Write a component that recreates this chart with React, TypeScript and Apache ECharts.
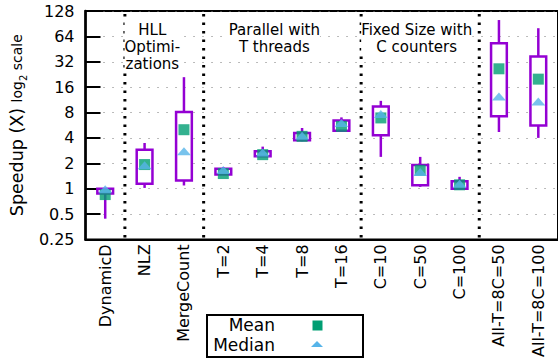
import React, { useEffect, useRef } from "react";
import * as echarts from "echarts";

const categories = ["DynamicD", "NLZ", "MergeCount", "T=2", "T=4", "T=8", "T=16", "C=10", "C=50", "C=100", "All-T=8C=50", "All-T=8C=100"];
const whiskerLow = [0.44, 1.02, 1.09, 1.45, 2.42, 3.65, 4.8, 2.38, 1.05, 1.0, 4.7, 4.0];
const boxLow = [0.875, 1.14, 1.25, 1.47, 2.42, 3.74, 4.87, 4.29, 1.1, 1.0, 7.2, 5.6];
const boxHigh = [1.0, 2.9, 8.1, 1.72, 2.77, 4.58, 6.45, 9.45, 1.91, 1.22, 53, 37];
const whiskerHigh = [1.0, 3.48, 21, 1.8, 3.15, 5.24, 7.0, 11.0, 2.38, 1.38, 100, 80];
const means = [0.85, 1.93, 5.0, 1.51, 2.53, 4.17, 5.48, 6.9, 1.65, 1.11, 26.4, 19.9];
const medians = [0.98, 1.9, 2.77, 1.66, 2.68, 4.25, 6.0, 7.7, 1.58, 1.14, 12.4, 10.8];
const separatorsAfter = [0, 2, 6, 9];
const groupLabels = [
  { text: "HLL\nOptimi-\nzations", at: 1.5 },
  { text: "Parallel with\nT threads", at: 4.5 },
  { text: "Fixed Size with\nC counters", at: 8 },
];

const PURPLE = "#9400D3";
const GREEN = "#009E73";
const BLUE = "#56B4E9";
const FONT = "DejaVu Sans";

const GRID_LEFT = 71;
const GRID_TOP = 11;
const GRID_W = 488;
const GRID_H = 229;

export default function App() {
  const ref = useRef<HTMLDivElement>(null);
  useEffect(() => {
    if (!ref.current) return;
    const chart = echarts.init(ref.current, null, { renderer: "svg" });
    const band = GRID_W / categories.length;
    const option: any = {
      animation: false,
      textStyle: { fontFamily: FONT, color: "#000" },
      grid: {
        left: GRID_LEFT,
        top: GRID_TOP,
        width: GRID_W,
        height: GRID_H,
        show: true,
        borderColor: "#000",
        borderWidth: 2,
        backgroundColor: "transparent",
      },
      xAxis: {
        type: "category",
        data: categories,
        boundaryGap: true,
        axisLine: { show: true, lineStyle: { color: "#000", width: 2 } },
        axisTick: { show: false },
        splitLine: { show: false },
        axisLabel: { rotate: 90, fontSize: 16, color: "#000", margin: 5, fontFamily: FONT, interval: 0 },
      },
      yAxis: {
        type: "log",
        logBase: 2,
        min: 0.25,
        max: 128,
        interval: 1,
        name: "{a|Speedup (X) }{b|log}{c|2}{b| scale}",
        nameLocation: "middle",
        nameGap: 46,
        nameRotate: 90,
        nameTextStyle: {
          rich: {
            a: { fontSize: 17.5, fontFamily: FONT, color: "#000", lineHeight: 22 },
            b: { fontSize: 14, fontFamily: FONT, color: "#000", lineHeight: 22 },
            c: { fontSize: 10, fontFamily: FONT, color: "#000", lineHeight: 10, verticalAlign: "bottom" },
          },
        },
        axisLine: { show: true, lineStyle: { color: "#000", width: 2.5 } },
        axisTick: { show: true, inside: true, length: 15, lineStyle: { color: "#000", width: 2 } },
        axisLabel: {
          fontSize: 16,
          color: "#000",
          margin: 11,
          fontFamily: FONT,
          formatter: (v: number) => String(Math.round(v * 100) / 100),
        },
        splitLine: { show: true, lineStyle: { color: "#777", type: [1, 8], width: 1 } },
      },
      series: [
        {
          type: "custom",
          z: 1,
          silent: true,
          data: separatorsAfter.map((i) => [i, 1]),
          encode: { x: 0, y: 1 },
          renderItem: (params: any, api: any) => {
            const p = api.coord([api.value(0), 1]);
            const x = p[0] + api.size([1, 0])[0] / 2;
            const cs = params.coordSys;
            return {
              type: "line",
              shape: { x1: x, y1: cs.y + 3, x2: x, y2: cs.y + cs.height },
              style: { stroke: "#000", lineWidth: 3, lineDash: [2.5, 6] },
            };
          },
        },
        {
          type: "custom",
          z: 2,
          data: categories.map((c, i) => [i, whiskerLow[i], boxLow[i], boxHigh[i], whiskerHigh[i]]),
          encode: { x: 0, y: [1, 2, 3, 4] },
          renderItem: (params: any, api: any) => {
            const i = api.value(0);
            const bw = api.size([1, 0])[0] * 0.4;
            const wl = api.coord([i, api.value(1)]);
            const bl = api.coord([i, api.value(2)]);
            const bh = api.coord([i, api.value(3)]);
            const wh = api.coord([i, api.value(4)]);
            const cx = bl[0];
            const st = { stroke: PURPLE, lineWidth: 2.5, fill: null };
            return {
              type: "group",
              children: [
                { type: "line", shape: { x1: cx, y1: bh[1], x2: cx, y2: wh[1] }, style: st },
                { type: "line", shape: { x1: cx, y1: bl[1], x2: cx, y2: wl[1] }, style: st },
                {
                  type: "rect",
                  shape: { x: cx - bw / 2, y: bh[1], width: bw, height: bl[1] - bh[1] },
                  style: { fill: "#fff", stroke: PURPLE, lineWidth: 2.5 },
                },
              ],
            };
          },
        },
        {
          type: "scatter",
          name: "Mean",
          z: 3,
          data: means,
          symbol: "rect",
          symbolSize: 11,
          itemStyle: { color: GREEN },
        },
        {
          type: "scatter",
          name: "Median",
          z: 4,
          data: medians,
          symbol: "triangle",
          symbolSize: [14, 8],
          itemStyle: { color: BLUE },
        },
      ],
      graphic: [
        ...groupLabels.map((g) => ({
          type: "text",
          x: GRID_LEFT + band * (g.at + 0.5),
          y: 22,
          z: 10,
          style: {
            text: g.text,
            fontSize: 15,
            fontFamily: FONT,
            fill: "#000",
            align: "center",
            verticalAlign: "top",
            lineHeight: 16.7,
            backgroundColor: "#fff",
          },
        })),
        {
          type: "rect",
          z: 10,
          shape: { x: 207, y: 315, width: 156, height: 42 },
          style: { fill: "#fff", stroke: "#000", lineWidth: 2 },
        },
        {
          type: "text",
          z: 11,
          x: 275,
          y: 325,
          style: { text: "Mean", fontSize: 17, fontFamily: FONT, fill: "#000", align: "right", verticalAlign: "middle" },
        },
        {
          type: "text",
          z: 11,
          x: 275,
          y: 345,
          style: { text: "Median", fontSize: 17, fontFamily: FONT, fill: "#000", align: "right", verticalAlign: "middle" },
        },
        {
          type: "rect",
          z: 11,
          shape: { x: 312.5, y: 320.5, width: 10, height: 10 },
          style: { fill: GREEN },
        },
        {
          type: "polygon",
          z: 11,
          shape: { points: [[311, 347], [323, 347], [317, 341]] },
          style: { fill: BLUE },
        },
      ],
    };
    chart.setOption(option);
    return () => chart.dispose();
  }, []);
  return <div ref={ref} style={{ width: 558, height: 360, position: "absolute", left: 0, top: 0 }} />;
}
